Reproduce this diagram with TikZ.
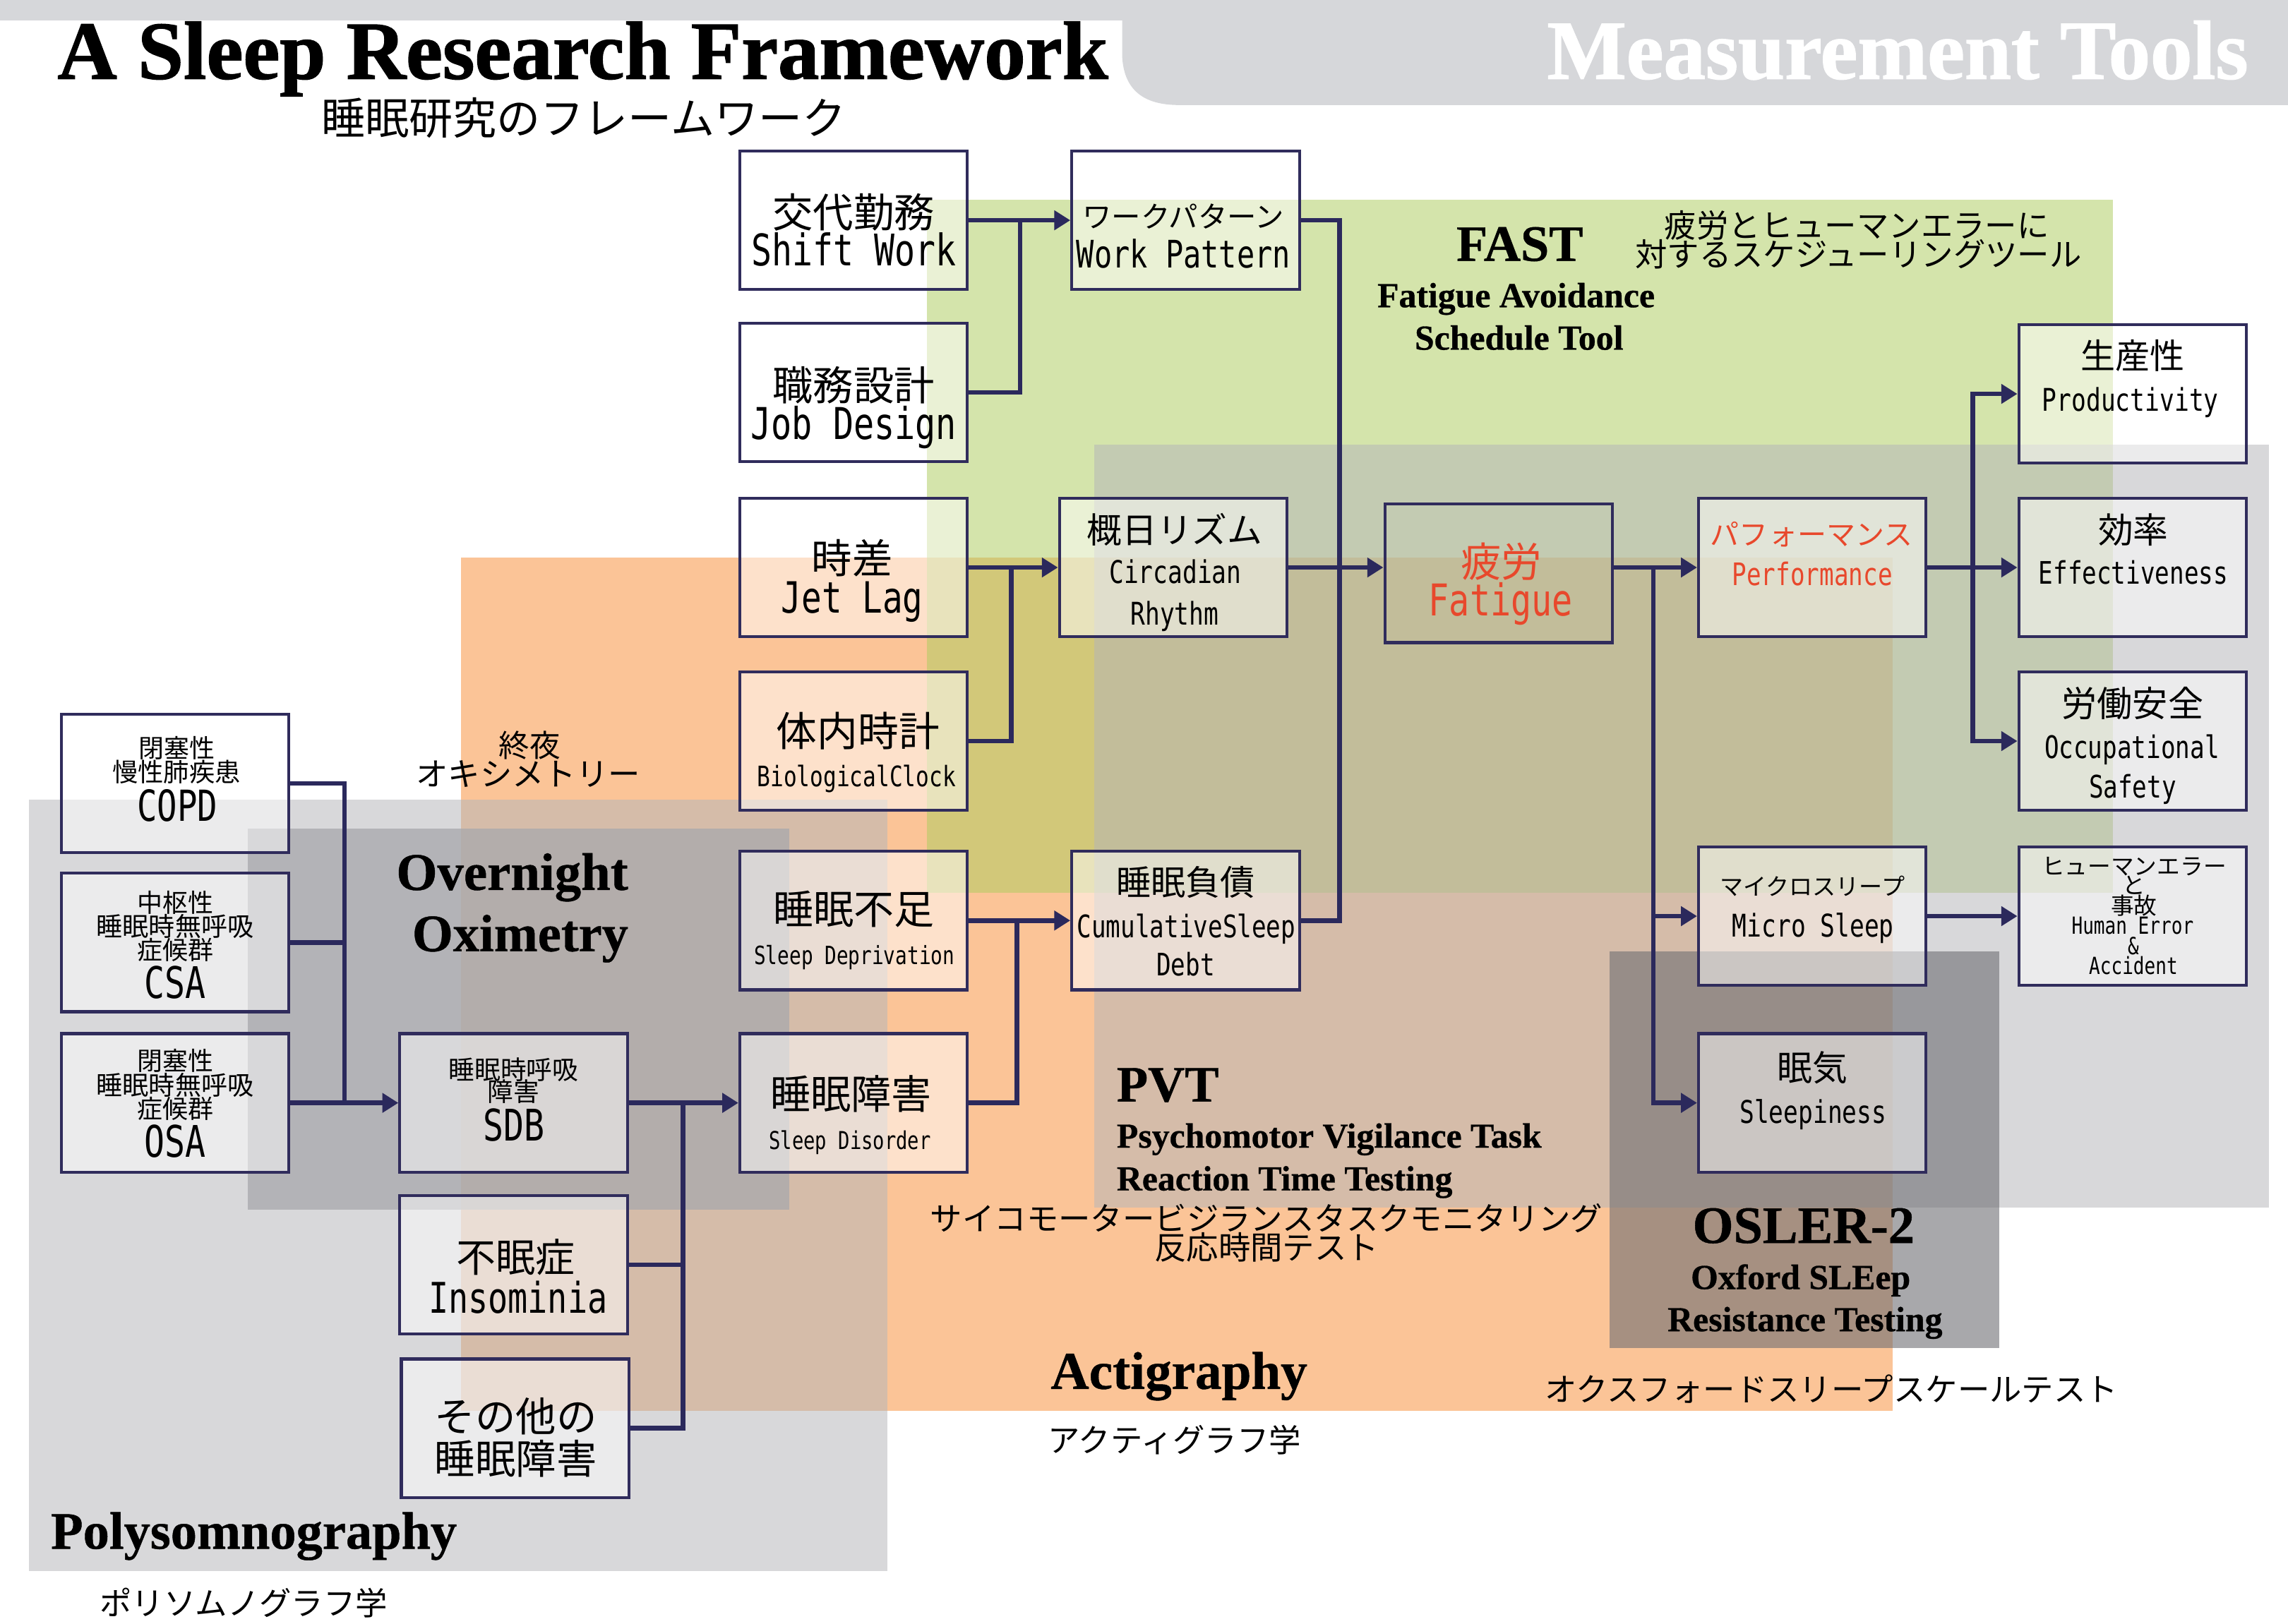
\documentclass[tikz,border=0pt]{standalone}
\usepackage{fontspec}
\setmainfont{Noto Sans CJK JP}
\newfontfamily\jp{Noto Sans CJK JP}
\newfontfamily\mono{DejaVu Sans Mono}[FakeStretch=0.78]
\newfontfamily\lbl{Liberation Serif}[BoldFeatures={FakeBold=0.6}]
\newfontfamily\ttl{Liberation Serif}[BoldFeatures={FakeBold=1.2}]
\usetikzlibrary{arrows.meta}
\definecolor{hdr}{RGB}{214,215,218}
\definecolor{orng}{RGB}{251,196,151}
\definecolor{grn}{RGB}{174,204,96}
\definecolor{gry}{RGB}{181,181,185}
\definecolor{dgry}{RGB}{168,168,172}
\definecolor{osl}{RGB}{110,110,115}
\definecolor{boxc}{RGB}{48,44,92}
\definecolor{linec}{RGB}{43,41,92}
\definecolor{redt}{RGB}{232,72,44}
\newcommand\fsz[1]{\fontsize{#1pt}{#1pt}\selectfont}
\tikzset{
  box/.style={draw=boxc, line width=1.15pt, fill=white, fill opacity=0.5, text opacity=1,
    minimum width=3.12cm, minimum height=1.9cm, inner sep=0pt},
  clearbox/.style={box, fill opacity=0},
  conn/.style={draw=linec, line width=1.8pt},
  arr/.style={-{Triangle[length=0.22cm,width=0.26cm]}},
  jpt/.style={font=\jp, inner sep=0pt, anchor=center, text=black},
  mt/.style={font=\mono, inner sep=0pt, anchor=base, text=black},
  lb/.style={font=\lbl\bfseries, inner sep=0pt, anchor=base, text=black},
  tt/.style={font=\ttl\bfseries, inner sep=0pt, anchor=base west, text=black},
}
\begin{document}
\begin{tikzpicture}[x=0.02cm,y=-0.02cm]
\useasboundingbox (0,0) rectangle (1568,1113.2);
% header band
\fill[hdr] (0,0) -- (1568,0) -- (1568,72) -- (808,72) .. controls (784,72) and (770,62) .. (769,38) -- (769,14) -- (0,14) -- cycle;
% measurement regions
\fill[orng] (316,382) rectangle (1297,967);
\fill[grn, opacity=0.53] (635,137) rectangle (1448,612);
\fill[gry, opacity=0.53] (750,305) rectangle (1555,828);
\fill[gry, opacity=0.53] (20,548) rectangle (608,1077);
\fill[dgry, opacity=0.75] (170,568) rectangle (541,829);
\fill[osl, opacity=0.6] (1103,652) rectangle (1370,924);

% titles
\node[tt] (title) at (39,54) {\fsz{32.2}A Sleep Research Framework};
\node[jpt] (subt) at (400,80.6) {\fsz{17.1}睡眠研究のフレームワーク};
\node[tt, anchor=base east, text=white] (mtools) at (1541,54) {\fsz{32.7}Measurement Tools};

% region labels
\node[lb] (fast) at (1041.5,178.8) {\fsz{19.9}FAST};
\node[lb] (fast2) at (1039,210.6) {\fsz{13.7}Fatigue Avoidance};
\node[lb] (fast3) at (1041,239.7) {\fsz{13.7}Schedule Tool};
\node[jpt] (fastj1) at (1272.5,154.5) {\fsz{12.5}疲労とヒューマンエラーに};
\node[jpt] (fastj2) at (1273.6,174.5) {\fsz{12.5}対するスケジューリングツール};
\node[jpt] (oxj1) at (363,511) {\fsz{12}終夜};
\node[jpt] (oxj2) at (362,530.7) {\fsz{12.5}オキシメトリー};
\node[lb] (ox1) at (351,610) {\fsz{20.6}Overnight};
\node[lb] (ox2) at (356.5,652) {\fsz{20.5}Oximetry};
\node[lb, anchor=base west] (pvt1) at (765,755) {\fsz{19.9}PVT};
\node[lb, anchor=base west] (pvt2) at (765,786.7) {\fsz{13.7}Psychomotor Vigilance Task};
\node[lb, anchor=base west] (pvt3) at (765,816) {\fsz{13.7}Reaction Time Testing};
\node[jpt] (pvtj1) at (868,835) {\fsz{12.5}サイコモータービジランスタスクモニタリング};
\node[jpt] (pvtj2) at (868,855) {\fsz{12.5}反応時間テスト};
\node[lb] (osla) at (1236,852) {\fsz{20.5}OSLER-2};
\node[lb] (oslb) at (1234,883.6) {\fsz{13.7}Oxford SLEep};
\node[lb] (oslc) at (1237,912.5) {\fsz{13.7}Resistance Testing};
\node[jpt] (oslj) at (1255,952) {\fsz{12.5}オクスフォードスリープスケールテスト};
\node[lb] (act) at (808,952) {\fsz{20.7}Actigraphy};
\node[jpt] (actj) at (805,987) {\fsz{12.5}アクティグラフ学};
\node[lb] (psg) at (174,1061.6) {\fsz{20.5}Polysomnography};
\node[jpt] (psgj) at (167,1098.6) {\fsz{12.5}ポリソムノグラフ学};

% junction coordinates
\coordinate (j1) at (699,151);
\coordinate (j2) at (693,389);
\coordinate (j3) at (697,631);
\coordinate (j4) at (918,389);
\coordinate (j5) at (1133,389);
\coordinate (j6) at (1352,389);
\coordinate (j7) at (236,756);
\coordinate (j8) at (468,756);

% boxes
\node[box] (sw) at (585,151) {};
\node[box] (jd) at (585,269) {};
\node[box] (jl) at (585,389) {};
\node[box] (bc) at (585,508) {};
\node[box] (sd) at (585,631) {};
\node[box] (sdis) at (585,756) {};
\node[box] (wp) at (812.5,151) {};
\node[box] (cr) at (804,389) {};
\node[box] (csd) at (812.5,631) {};
\node[clearbox] (fat) at (1027,393) {};
\node[box] (perf) at (1242,389) {};
\node[box] (ms) at (1242,628) {};
\node[box] (sl) at (1242,756) {};
\node[box] (pr) at (1461.5,270) {};
\node[box] (eff) at (1461.5,389) {};
\node[box] (oc) at (1461.5,508) {};
\node[box] (he) at (1461.5,628) {};
\node[box] (copd) at (120,537) {};
\node[box] (csa) at (120,646) {};
\node[box] (osa) at (120,756) {};
\node[box] (sdb) at (352,756) {};
\node[box] (ins) at (352,867) {};
\node[box] (oth) at (353,979) {};

% connectors
\draw[conn,arr] (sw.east) -- (wp.west);
\draw[conn] (jd.east) -| (j1);
\draw[conn,arr] (jl.east) -- (cr.west);
\draw[conn] (bc.east) -| (j2);
\draw[conn,arr] (sd.east) -- (csd.west);
\draw[conn] (sdis.east) -| (j3);
\draw[conn] (wp.east) -| (j4) |- (csd.east);
\draw[conn,arr] (cr.east) -- (cr.east -| fat.west);
\draw[conn,arr] (fat.east |- j5) -- (perf.west);
\draw[conn,arr] (j5) |- (ms.west);
\draw[conn,arr] (j5) |- (sl.west);
\draw[conn,arr] (perf.east) -- (eff.west);
\draw[conn,arr] (j6) |- (pr.west);
\draw[conn,arr] (j6) |- (oc.west);
\draw[conn,arr] (ms.east) -- (he.west);
\draw[conn] (copd.east) -| (j7);
\draw[conn] (csa.east) -- (csa.east -| j7);
\draw[conn,arr] (osa.east) -- (sdb.west);
\draw[conn,arr] (sdb.east) -- (sdis.west);
\draw[conn] (ins.east) -| (j8);
\draw[conn] (oth.east) -| (j8);

% box texts
\node[jpt] (sw1) at (585,145.5) {\fsz{15.8}交代勤務};
\node[mt] (sw2) at (585,182) {\fsz{17}Shift Work};
\node[jpt] (jd1) at (585,264) {\fsz{15.8}職務設計};
\node[mt] (jd2) at (585,301) {\fsz{17.1}Job Design};
\node[jpt] (jl1) at (584,382.5) {\fsz{15.8}時差};
\node[mt] (jl2) at (584,420) {\fsz{16.8}Jet Lag};
\node[jpt] (bc1) at (588,501) {\fsz{15.9}体内時計};
\node[mt] (bc2) at (587,539) {\fsz{11}BiologicalClock};
\node[jpt] (sd1) at (585,623) {\fsz{15.7}睡眠不足};
\node[mt] (sd2) at (585.5,661) {\fsz{9.8}Sleep Deprivation};
\node[jpt] (sdis1) at (583,750) {\fsz{15.7}睡眠障害};
\node[mt] (sdis2) at (582.5,788) {\fsz{9.6}Sleep Disorder};

\node[jpt] (wp1) at (811,148.5) {\fsz{11.4}ワークパターン};
\node[mt] (wp2) at (811,183.5) {\fsz{14.8}Work Pattern};
\node[jpt] (cr1) at (805,363) {\fsz{13.7}概日リズム};
\node[mt] (cr2) at (805.5,400) {\fsz{12.2}Circadian};
\node[mt] (cr3) at (805,428.5) {\fsz{12.2}Rhythm};
\node[jpt] (csd1) at (812.5,605) {\fsz{13.5}睡眠負債};
\node[mt] (csd2) at (813,642.5) {\fsz{12.1}CumulativeSleep};
\node[mt] (csd3) at (812.5,669) {\fsz{12.1}Debt};

\node[jpt, text=redt] (fat1) at (1029,385) {\fsz{15.9}疲労};
\node[mt, text=redt] (fat2) at (1028.5,422) {\fsz{17.1}Fatigue};
\node[jpt, text=redt] (perf1) at (1241.5,366.5) {\fsz{11.3}パフォーマンス};
\node[mt, text=redt] (perf2) at (1242,401.5) {\fsz{12.1}Performance};

\node[jpt] (ms1) at (1242,607.5) {\fsz{9.1}マイクロスリープ};
\node[mt] (ms2) at (1242.5,642) {\fsz{12.2}Micro Sleep};
\node[jpt] (sl1) at (1242,732) {\fsz{13.7}眠気};
\node[mt] (sl2) at (1242.5,770) {\fsz{12.2}Sleepiness};

\node[jpt] (pr1) at (1461.5,244) {\fsz{13.5}生産性};
\node[mt] (pr2) at (1460,282) {\fsz{12.2}Productivity};
\node[jpt] (ef1) at (1462,363) {\fsz{13.7}効率};
\node[mt] (ef2) at (1462,400.3) {\fsz{12.1}Effectiveness};
\node[jpt] (oc1) at (1461.5,482) {\fsz{13.8}労働安全};
\node[mt] (oc2) at (1461,519.6) {\fsz{12.1}Occupational};
\node[mt] (oc3) at (1461.5,547) {\fsz{12.1}Safety};
\node[jpt] (he1) at (1462.5,594) {\fsz{9}ヒューマンエラー};
\node[jpt] (he2) at (1462.5,607) {\fsz{9}と};
\node[jpt] (he3) at (1462.5,620.7) {\fsz{9}事故};
\node[mt] (he4) at (1461.5,640.5) {\fsz{9.2}Human Error};
\node[mt] (he5) at (1462,654.5) {\fsz{9.2}\&};
\node[mt] (he6) at (1462,668) {\fsz{9.2}Accident};

\node[jpt] (cp1) at (121,512.6) {\fsz{9.9}閉塞性};
\node[jpt] (cp2) at (121,529) {\fsz{10}慢性肺疾患};
\node[mt] (cp3) at (121.5,563) {\fsz{16.7}COPD};
\node[jpt] (cs1) at (120,618.5) {\fsz{9.9}中枢性};
\node[jpt] (cs2) at (120,635) {\fsz{10.2}睡眠時無呼吸};
\node[jpt] (cs3) at (120,651) {\fsz{9.9}症候群};
\node[mt] (cs4) at (120,684.5) {\fsz{17}CSA};
\node[jpt] (os1) at (120,727) {\fsz{9.9}閉塞性};
\node[jpt] (os2) at (120,743.6) {\fsz{10.2}睡眠時無呼吸};
\node[jpt] (os3) at (120,759.8) {\fsz{9.9}症候群};
\node[mt] (os4) at (120,793) {\fsz{17}OSA};
\node[jpt] (sb1) at (352,733) {\fsz{10.1}睡眠時呼吸};
\node[jpt] (sb2) at (352,748) {\fsz{10.1}障害};
\node[mt] (sb3) at (352,782) {\fsz{17}SDB};
\node[jpt] (in1) at (353.5,862) {\fsz{15.4}不眠症};
\node[mt] (in2) at (355,900) {\fsz{16.5}Insominia};
\node[jpt] (ot1) at (353.5,970.7) {\fsz{15.8}その他の};
\node[jpt] (ot2) at (353.5,999.7) {\fsz{15.8}睡眠障害};
\end{tikzpicture}
\end{document}
